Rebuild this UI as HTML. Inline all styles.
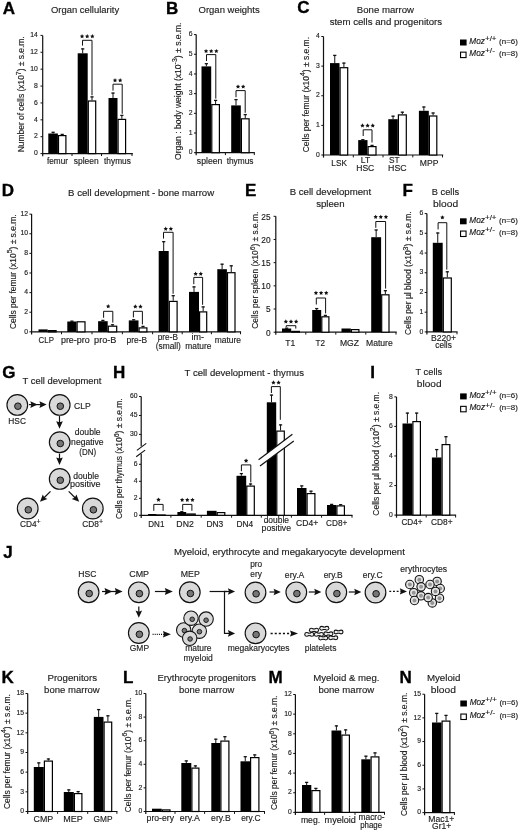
<!DOCTYPE html>
<html><head><meta charset="utf-8"><title>Figure</title>
<style>
html,body{margin:0;padding:0;background:#fff;}
svg{display:block;will-change:transform;filter:blur(0.25px);}
text{font-family:"Liberation Sans",sans-serif;fill:#1c1c1c;stroke:#1c1c1c;stroke-width:0.15px;}
</style></head>
<body>
<svg width="520" height="831" viewBox="0 0 520 831">
<rect x="0" y="0" width="520" height="831" fill="#fff"/>
<text x="2.73" y="13.50" font-size="17" font-weight="bold" style="fill:#000;stroke:#000;stroke-width:0.35px">A</text>
<text x="50.95" y="12.90" font-size="9.7" textLength="68.17" lengthAdjust="spacingAndGlyphs">Organ cellularity</text>
<line x1="42.70" y1="35.40" x2="42.70" y2="156.20" stroke="#111" stroke-width="1.2"/>
<line x1="40.50" y1="153.60" x2="42.70" y2="153.60" stroke="#111" stroke-width="1.0"/>
<text x="37.80" y="155.33" font-size="6.8" text-anchor="end">0</text>
<line x1="40.50" y1="136.71" x2="42.70" y2="136.71" stroke="#111" stroke-width="1.0"/>
<text x="37.80" y="138.44" font-size="6.8" text-anchor="end">2</text>
<line x1="40.50" y1="119.83" x2="42.70" y2="119.83" stroke="#111" stroke-width="1.0"/>
<text x="37.80" y="121.56" font-size="6.8" text-anchor="end">4</text>
<line x1="40.50" y1="102.94" x2="42.70" y2="102.94" stroke="#111" stroke-width="1.0"/>
<text x="37.80" y="104.67" font-size="6.8" text-anchor="end">6</text>
<line x1="40.50" y1="86.06" x2="42.70" y2="86.06" stroke="#111" stroke-width="1.0"/>
<text x="37.80" y="87.78" font-size="6.8" text-anchor="end">8</text>
<line x1="40.50" y1="69.17" x2="42.70" y2="69.17" stroke="#111" stroke-width="1.0"/>
<text x="37.80" y="70.90" font-size="6.8" text-anchor="end">10</text>
<line x1="40.50" y1="52.28" x2="42.70" y2="52.28" stroke="#111" stroke-width="1.0"/>
<text x="37.80" y="54.01" font-size="6.8" text-anchor="end">12</text>
<line x1="40.50" y1="35.40" x2="42.70" y2="35.40" stroke="#111" stroke-width="1.0"/>
<text x="37.80" y="37.13" font-size="6.8" text-anchor="end">14</text>
<line x1="42.10" y1="153.60" x2="132.80" y2="153.60" stroke="#111" stroke-width="1.2"/>
<line x1="72.00" y1="153.60" x2="72.00" y2="156.00" stroke="#111" stroke-width="1.0"/>
<line x1="101.50" y1="153.60" x2="101.50" y2="156.00" stroke="#111" stroke-width="1.0"/>
<line x1="132.00" y1="153.60" x2="132.00" y2="156.00" stroke="#111" stroke-width="1.0"/>
<rect x="48.30" y="133.50" width="9.60" height="20.10" fill="#000"/>
<line x1="53.10" y1="131.90" x2="53.10" y2="133.50" stroke="#111" stroke-width="1.0"/>
<line x1="51.50" y1="132.30" x2="54.70" y2="132.30" stroke="#111" stroke-width="1.3"/>
<rect x="58.50" y="135.60" width="7.40" height="18.00" fill="#fff" stroke="#000" stroke-width="1.2"/>
<line x1="62.20" y1="134.00" x2="62.20" y2="135.00" stroke="#111" stroke-width="1.0"/>
<line x1="60.60" y1="134.40" x2="63.80" y2="134.40" stroke="#111" stroke-width="1.3"/>
<rect x="77.70" y="53.30" width="10.00" height="100.30" fill="#000"/>
<line x1="82.70" y1="48.50" x2="82.70" y2="53.30" stroke="#111" stroke-width="1.0"/>
<line x1="81.10" y1="48.90" x2="84.30" y2="48.90" stroke="#111" stroke-width="1.3"/>
<rect x="88.30" y="101.00" width="7.40" height="52.60" fill="#fff" stroke="#000" stroke-width="1.2"/>
<line x1="92.00" y1="96.50" x2="92.00" y2="100.40" stroke="#111" stroke-width="1.0"/>
<line x1="90.40" y1="96.90" x2="93.60" y2="96.90" stroke="#111" stroke-width="1.3"/>
<rect x="108.50" y="98.00" width="9.00" height="55.60" fill="#000"/>
<line x1="113.00" y1="92.70" x2="113.00" y2="98.00" stroke="#111" stroke-width="1.0"/>
<line x1="111.40" y1="93.10" x2="114.60" y2="93.10" stroke="#111" stroke-width="1.3"/>
<rect x="118.10" y="119.40" width="7.50" height="34.20" fill="#fff" stroke="#000" stroke-width="1.2"/>
<line x1="121.85" y1="115.00" x2="121.85" y2="118.80" stroke="#111" stroke-width="1.0"/>
<line x1="120.25" y1="115.40" x2="123.45" y2="115.40" stroke="#111" stroke-width="1.3"/>
<polyline points="82.50,45.60 82.50,40.30 92.00,40.30 92.00,95.30" stroke="#111" stroke-width="1.0" fill="none"/>
<polygon points="82.05,34.10 82.73,35.47 84.24,35.69 83.14,36.76 83.40,38.26 82.05,37.55 80.70,38.26 80.96,36.76 79.86,35.69 81.37,35.47" fill="#111"/>
<polygon points="87.20,34.10 87.88,35.47 89.39,35.69 88.29,36.76 88.55,38.26 87.20,37.55 85.85,38.26 86.11,36.76 85.01,35.69 86.52,35.47" fill="#111"/>
<polygon points="92.35,34.10 93.03,35.47 94.54,35.69 93.44,36.76 93.70,38.26 92.35,37.55 91.00,38.26 91.26,36.76 90.16,35.69 91.67,35.47" fill="#111"/>
<polyline points="113.00,90.60 113.00,84.20 122.20,84.20 122.20,113.80" stroke="#111" stroke-width="1.0" fill="none"/>
<polygon points="115.02,78.10 115.70,79.47 117.21,79.69 116.12,80.76 116.38,82.26 115.02,81.55 113.67,82.26 113.93,80.76 112.84,79.69 114.35,79.47" fill="#111"/>
<polygon points="120.17,78.10 120.85,79.47 122.36,79.69 121.27,80.76 121.53,82.26 120.17,81.55 118.82,82.26 119.08,80.76 117.99,79.69 119.50,79.47" fill="#111"/>
<text x="46.98" y="164.30" font-size="8.5" textLength="20.95" lengthAdjust="spacingAndGlyphs">femur</text>
<text x="73.76" y="164.30" font-size="8.5" textLength="24.88" lengthAdjust="spacingAndGlyphs">spleen</text>
<text x="104.07" y="164.30" font-size="8.5" textLength="26.83" lengthAdjust="spacingAndGlyphs">thymus</text>
<text transform="translate(24.00,152.20) rotate(-90)" x="0" y="0" font-size="8.3" textLength="115.84" lengthAdjust="spacingAndGlyphs">Number of cells (x10<tspan dy="-3.49" font-size="6.81">7</tspan><tspan dy="3.49">) ± s.e.m.</tspan></text>
<text x="166.11" y="13.60" font-size="17" font-weight="bold" style="fill:#000;stroke:#000;stroke-width:0.35px">B</text>
<text x="198.55" y="12.90" font-size="9.7" textLength="61.19" lengthAdjust="spacingAndGlyphs">Organ weights</text>
<line x1="196.20" y1="34.60" x2="196.20" y2="155.30" stroke="#111" stroke-width="1.2"/>
<line x1="194.00" y1="152.70" x2="196.20" y2="152.70" stroke="#111" stroke-width="1.0"/>
<text x="192.60" y="154.43" font-size="6.8" text-anchor="end">0</text>
<line x1="194.00" y1="133.02" x2="196.20" y2="133.02" stroke="#111" stroke-width="1.0"/>
<text x="192.60" y="134.74" font-size="6.8" text-anchor="end">1</text>
<line x1="194.00" y1="113.33" x2="196.20" y2="113.33" stroke="#111" stroke-width="1.0"/>
<text x="192.60" y="115.06" font-size="6.8" text-anchor="end">2</text>
<line x1="194.00" y1="93.65" x2="196.20" y2="93.65" stroke="#111" stroke-width="1.0"/>
<text x="192.60" y="95.38" font-size="6.8" text-anchor="end">3</text>
<line x1="194.00" y1="73.97" x2="196.20" y2="73.97" stroke="#111" stroke-width="1.0"/>
<text x="192.60" y="75.70" font-size="6.8" text-anchor="end">4</text>
<line x1="194.00" y1="54.28" x2="196.20" y2="54.28" stroke="#111" stroke-width="1.0"/>
<text x="192.60" y="56.01" font-size="6.8" text-anchor="end">5</text>
<line x1="194.00" y1="34.60" x2="196.20" y2="34.60" stroke="#111" stroke-width="1.0"/>
<text x="192.60" y="36.33" font-size="6.8" text-anchor="end">6</text>
<line x1="195.60" y1="152.70" x2="254.80" y2="152.70" stroke="#111" stroke-width="1.2"/>
<line x1="225.40" y1="152.70" x2="225.40" y2="155.10" stroke="#111" stroke-width="1.0"/>
<line x1="254.30" y1="152.70" x2="254.30" y2="155.10" stroke="#111" stroke-width="1.0"/>
<rect x="201.50" y="66.40" width="9.70" height="86.30" fill="#000"/>
<line x1="206.35" y1="63.30" x2="206.35" y2="66.40" stroke="#111" stroke-width="1.0"/>
<line x1="204.75" y1="63.70" x2="207.95" y2="63.70" stroke="#111" stroke-width="1.3"/>
<rect x="211.80" y="104.60" width="7.60" height="48.10" fill="#fff" stroke="#000" stroke-width="1.2"/>
<line x1="215.60" y1="100.00" x2="215.60" y2="104.00" stroke="#111" stroke-width="1.0"/>
<line x1="214.00" y1="100.40" x2="217.20" y2="100.40" stroke="#111" stroke-width="1.3"/>
<rect x="231.20" y="105.40" width="9.60" height="47.30" fill="#000"/>
<line x1="236.00" y1="99.20" x2="236.00" y2="105.40" stroke="#111" stroke-width="1.0"/>
<line x1="234.40" y1="99.60" x2="237.60" y2="99.60" stroke="#111" stroke-width="1.3"/>
<rect x="241.40" y="118.80" width="7.70" height="33.90" fill="#fff" stroke="#000" stroke-width="1.2"/>
<line x1="245.25" y1="114.20" x2="245.25" y2="118.20" stroke="#111" stroke-width="1.0"/>
<line x1="243.65" y1="114.60" x2="246.85" y2="114.60" stroke="#111" stroke-width="1.3"/>
<polyline points="206.50,61.00 206.50,54.60 215.80,54.60 215.80,98.60" stroke="#111" stroke-width="1.0" fill="none"/>
<polygon points="206.05,48.90 206.73,50.27 208.24,50.49 207.14,51.56 207.40,53.06 206.05,52.35 204.70,53.06 204.96,51.56 203.86,50.49 205.37,50.27" fill="#111"/>
<polygon points="211.20,48.90 211.88,50.27 213.39,50.49 212.29,51.56 212.55,53.06 211.20,52.35 209.85,53.06 210.11,51.56 209.01,50.49 210.52,50.27" fill="#111"/>
<polygon points="216.35,48.90 217.03,50.27 218.54,50.49 217.44,51.56 217.70,53.06 216.35,52.35 215.00,53.06 215.26,51.56 214.16,50.49 215.67,50.27" fill="#111"/>
<polyline points="236.00,97.20 236.00,90.60 245.20,90.60 245.20,112.80" stroke="#111" stroke-width="1.0" fill="none"/>
<polygon points="238.03,84.40 238.70,85.77 240.21,85.99 239.12,87.06 239.38,88.56 238.03,87.85 236.67,88.56 236.93,87.06 235.84,85.99 237.35,85.77" fill="#111"/>
<polygon points="243.18,84.40 243.85,85.77 245.36,85.99 244.27,87.06 244.53,88.56 243.18,87.85 241.82,88.56 242.08,87.06 240.99,85.99 242.50,85.77" fill="#111"/>
<text x="196.86" y="163.80" font-size="8.5" textLength="25.50" lengthAdjust="spacingAndGlyphs">spleen</text>
<text x="226.67" y="163.80" font-size="8.5" textLength="26.83" lengthAdjust="spacingAndGlyphs">thymus</text>
<text transform="translate(180.90,159.90) rotate(-90)" x="0" y="0" font-size="8.3" textLength="137.34" lengthAdjust="spacingAndGlyphs">Organ : body weight (x10<tspan dy="-3.49" font-size="6.81">-3</tspan><tspan dy="3.49">) ± s.e.m.</tspan></text>
<text x="297.25" y="13.40" font-size="17" font-weight="bold" style="fill:#000;stroke:#000;stroke-width:0.35px">C</text>
<text x="356.81" y="13.20" font-size="9.7" textLength="57.17" lengthAdjust="spacingAndGlyphs">Bone marrow</text>
<text x="329.63" y="24.90" font-size="9.7" textLength="112.52" lengthAdjust="spacingAndGlyphs">stem cells and progenitors</text>
<line x1="323.50" y1="36.50" x2="323.50" y2="157.60" stroke="#111" stroke-width="1.2"/>
<line x1="321.30" y1="155.00" x2="323.50" y2="155.00" stroke="#111" stroke-width="1.0"/>
<text x="319.90" y="156.73" font-size="6.8" text-anchor="end">0</text>
<line x1="321.30" y1="125.38" x2="323.50" y2="125.38" stroke="#111" stroke-width="1.0"/>
<text x="319.90" y="127.10" font-size="6.8" text-anchor="end">1</text>
<line x1="321.30" y1="95.75" x2="323.50" y2="95.75" stroke="#111" stroke-width="1.0"/>
<text x="319.90" y="97.48" font-size="6.8" text-anchor="end">2</text>
<line x1="321.30" y1="66.12" x2="323.50" y2="66.12" stroke="#111" stroke-width="1.0"/>
<text x="319.90" y="67.85" font-size="6.8" text-anchor="end">3</text>
<line x1="321.30" y1="36.50" x2="323.50" y2="36.50" stroke="#111" stroke-width="1.0"/>
<text x="319.90" y="38.23" font-size="6.8" text-anchor="end">4</text>
<line x1="322.90" y1="155.00" x2="443.20" y2="155.00" stroke="#111" stroke-width="1.2"/>
<line x1="353.30" y1="155.00" x2="353.30" y2="157.40" stroke="#111" stroke-width="1.0"/>
<line x1="383.00" y1="155.00" x2="383.00" y2="157.40" stroke="#111" stroke-width="1.0"/>
<line x1="412.80" y1="155.00" x2="412.80" y2="157.40" stroke="#111" stroke-width="1.0"/>
<line x1="442.50" y1="155.00" x2="442.50" y2="157.40" stroke="#111" stroke-width="1.0"/>
<rect x="330.00" y="63.10" width="9.50" height="91.90" fill="#000"/>
<line x1="334.75" y1="55.00" x2="334.75" y2="63.10" stroke="#111" stroke-width="1.0"/>
<line x1="333.15" y1="55.40" x2="336.35" y2="55.40" stroke="#111" stroke-width="1.3"/>
<rect x="340.10" y="67.70" width="7.60" height="87.30" fill="#fff" stroke="#000" stroke-width="1.2"/>
<line x1="343.90" y1="62.70" x2="343.90" y2="67.10" stroke="#111" stroke-width="1.0"/>
<line x1="342.30" y1="63.10" x2="345.50" y2="63.10" stroke="#111" stroke-width="1.3"/>
<rect x="358.20" y="140.10" width="9.30" height="14.90" fill="#000"/>
<line x1="362.85" y1="139.30" x2="362.85" y2="140.10" stroke="#111" stroke-width="1.0"/>
<line x1="361.25" y1="139.70" x2="364.45" y2="139.70" stroke="#111" stroke-width="1.3"/>
<rect x="368.10" y="146.60" width="7.90" height="8.40" fill="#fff" stroke="#000" stroke-width="1.2"/>
<line x1="372.05" y1="145.00" x2="372.05" y2="146.00" stroke="#111" stroke-width="1.0"/>
<line x1="370.45" y1="145.40" x2="373.65" y2="145.40" stroke="#111" stroke-width="1.3"/>
<rect x="388.30" y="119.20" width="9.50" height="35.80" fill="#000"/>
<line x1="393.05" y1="115.80" x2="393.05" y2="119.20" stroke="#111" stroke-width="1.0"/>
<line x1="391.45" y1="116.20" x2="394.65" y2="116.20" stroke="#111" stroke-width="1.3"/>
<rect x="398.40" y="114.90" width="7.90" height="40.10" fill="#fff" stroke="#000" stroke-width="1.2"/>
<line x1="402.35" y1="111.80" x2="402.35" y2="114.30" stroke="#111" stroke-width="1.0"/>
<line x1="400.75" y1="112.20" x2="403.95" y2="112.20" stroke="#111" stroke-width="1.3"/>
<rect x="418.90" y="110.80" width="9.90" height="44.20" fill="#000"/>
<line x1="423.85" y1="106.60" x2="423.85" y2="110.80" stroke="#111" stroke-width="1.0"/>
<line x1="422.25" y1="107.00" x2="425.45" y2="107.00" stroke="#111" stroke-width="1.3"/>
<rect x="429.40" y="116.00" width="7.40" height="39.00" fill="#fff" stroke="#000" stroke-width="1.2"/>
<line x1="433.10" y1="112.60" x2="433.10" y2="115.40" stroke="#111" stroke-width="1.0"/>
<line x1="431.50" y1="113.00" x2="434.70" y2="113.00" stroke="#111" stroke-width="1.3"/>
<polyline points="363.20,136.00 363.20,129.80 372.00,129.80 372.00,142.50" stroke="#111" stroke-width="1.0" fill="none"/>
<polygon points="362.45,123.30 363.13,124.67 364.64,124.89 363.54,125.96 363.80,127.46 362.45,126.75 361.10,127.46 361.36,125.96 360.26,124.89 361.77,124.67" fill="#111"/>
<polygon points="367.60,123.30 368.28,124.67 369.79,124.89 368.69,125.96 368.95,127.46 367.60,126.75 366.25,127.46 366.51,125.96 365.41,124.89 366.92,124.67" fill="#111"/>
<polygon points="372.75,123.30 373.43,124.67 374.94,124.89 373.84,125.96 374.10,127.46 372.75,126.75 371.40,127.46 371.66,125.96 370.56,124.89 372.07,124.67" fill="#111"/>
<text x="331.32" y="166.20" font-size="8.5" textLength="15.57" lengthAdjust="spacingAndGlyphs">LSK</text>
<text x="360.84" y="163.10" font-size="8.5" textLength="9.34" lengthAdjust="spacingAndGlyphs">LT</text>
<text x="356.20" y="170.60" font-size="8.5" textLength="18.13" lengthAdjust="spacingAndGlyphs">HSC</text>
<text x="389.02" y="163.10" font-size="8.5" textLength="10.57" lengthAdjust="spacingAndGlyphs">ST</text>
<text x="388.08" y="170.60" font-size="8.5" textLength="18.56" lengthAdjust="spacingAndGlyphs">HSC</text>
<text x="419.80" y="166.20" font-size="8.5" textLength="18.55" lengthAdjust="spacingAndGlyphs">MPP</text>
<text transform="translate(308.60,152.30) rotate(-90)" x="0" y="0" font-size="8.3" textLength="115.34" lengthAdjust="spacingAndGlyphs">Cells per femur (x10<tspan dy="-3.49" font-size="6.81">4</tspan><tspan dy="3.49">) ± s.e.m.</tspan></text>
<rect x="460.00" y="39.50" width="6.60" height="6.00" fill="#000"/>
<rect x="460.55" y="52.15" width="5.50" height="5.45" fill="#fff" stroke="#000" stroke-width="1.1"/>
<text x="469.35" y="44.00" font-size="8.3" font-style="italic" textLength="15.57" lengthAdjust="spacingAndGlyphs">Moz</text>
<text x="485.01" y="41.30" font-size="7.2" textLength="11.48" lengthAdjust="spacingAndGlyphs">+/+</text>
<text x="499.11" y="44.00" font-size="7.7" textLength="18.68" lengthAdjust="spacingAndGlyphs">(n=6)</text>
<text x="469.35" y="56.10" font-size="8.3" font-style="italic" textLength="15.57" lengthAdjust="spacingAndGlyphs">Moz</text>
<text x="484.99" y="53.40" font-size="7.2" textLength="9.98" lengthAdjust="spacingAndGlyphs">+/-</text>
<text x="499.11" y="56.10" font-size="7.7" textLength="18.68" lengthAdjust="spacingAndGlyphs">(n=8)</text>
<text x="1.71" y="196.20" font-size="17" font-weight="bold" style="fill:#000;stroke:#000;stroke-width:0.35px">D</text>
<text x="68.11" y="195.80" font-size="9.7" textLength="146.07" lengthAdjust="spacingAndGlyphs">B cell development - bone marrow</text>
<line x1="31.60" y1="214.10" x2="31.60" y2="334.45" stroke="#111" stroke-width="1.2"/>
<line x1="29.40" y1="331.85" x2="31.60" y2="331.85" stroke="#111" stroke-width="1.0"/>
<text x="28.00" y="333.58" font-size="6.8" text-anchor="end">0</text>
<line x1="29.40" y1="312.23" x2="31.60" y2="312.23" stroke="#111" stroke-width="1.0"/>
<text x="28.00" y="313.96" font-size="6.8" text-anchor="end">2</text>
<line x1="29.40" y1="292.61" x2="31.60" y2="292.61" stroke="#111" stroke-width="1.0"/>
<text x="28.00" y="294.34" font-size="6.8" text-anchor="end">4</text>
<line x1="29.40" y1="272.99" x2="31.60" y2="272.99" stroke="#111" stroke-width="1.0"/>
<text x="28.00" y="274.72" font-size="6.8" text-anchor="end">6</text>
<line x1="29.40" y1="253.37" x2="31.60" y2="253.37" stroke="#111" stroke-width="1.0"/>
<text x="28.00" y="255.10" font-size="6.8" text-anchor="end">8</text>
<line x1="29.40" y1="233.75" x2="31.60" y2="233.75" stroke="#111" stroke-width="1.0"/>
<text x="28.00" y="235.48" font-size="6.8" text-anchor="end">10</text>
<line x1="29.40" y1="214.13" x2="31.60" y2="214.13" stroke="#111" stroke-width="1.0"/>
<text x="28.00" y="215.86" font-size="6.8" text-anchor="end">12</text>
<line x1="31.00" y1="331.85" x2="241.10" y2="331.85" stroke="#111" stroke-width="1.2"/>
<line x1="61.50" y1="331.85" x2="61.50" y2="334.25" stroke="#111" stroke-width="1.0"/>
<line x1="92.00" y1="331.85" x2="92.00" y2="334.25" stroke="#111" stroke-width="1.0"/>
<line x1="122.40" y1="331.85" x2="122.40" y2="334.25" stroke="#111" stroke-width="1.0"/>
<line x1="152.60" y1="331.85" x2="152.60" y2="334.25" stroke="#111" stroke-width="1.0"/>
<line x1="182.20" y1="331.85" x2="182.20" y2="334.25" stroke="#111" stroke-width="1.0"/>
<line x1="211.40" y1="331.85" x2="211.40" y2="334.25" stroke="#111" stroke-width="1.0"/>
<line x1="240.50" y1="331.85" x2="240.50" y2="334.25" stroke="#111" stroke-width="1.0"/>
<rect x="38.50" y="329.40" width="9.20" height="2.45" fill="#000"/>
<rect x="48.30" y="330.60" width="7.80" height="1.25" fill="#fff" stroke="#000" stroke-width="1.2"/>
<rect x="67.30" y="321.50" width="9.20" height="10.35" fill="#000"/>
<line x1="71.90" y1="320.80" x2="71.90" y2="321.50" stroke="#111" stroke-width="1.0"/>
<line x1="70.30" y1="321.20" x2="73.50" y2="321.20" stroke="#111" stroke-width="1.3"/>
<rect x="77.10" y="321.80" width="7.90" height="10.05" fill="#fff" stroke="#000" stroke-width="1.2"/>
<rect x="98.10" y="321.20" width="9.60" height="10.65" fill="#000"/>
<line x1="102.90" y1="320.00" x2="102.90" y2="321.20" stroke="#111" stroke-width="1.0"/>
<line x1="101.30" y1="320.40" x2="104.50" y2="320.40" stroke="#111" stroke-width="1.3"/>
<rect x="108.30" y="326.20" width="8.40" height="5.65" fill="#fff" stroke="#000" stroke-width="1.2"/>
<line x1="112.50" y1="324.40" x2="112.50" y2="325.60" stroke="#111" stroke-width="1.0"/>
<line x1="110.90" y1="324.80" x2="114.10" y2="324.80" stroke="#111" stroke-width="1.3"/>
<rect x="128.80" y="320.40" width="9.70" height="11.45" fill="#000"/>
<line x1="133.65" y1="319.40" x2="133.65" y2="320.40" stroke="#111" stroke-width="1.0"/>
<line x1="132.05" y1="319.80" x2="135.25" y2="319.80" stroke="#111" stroke-width="1.3"/>
<rect x="139.10" y="327.90" width="7.80" height="3.95" fill="#fff" stroke="#000" stroke-width="1.2"/>
<line x1="143.00" y1="326.00" x2="143.00" y2="327.30" stroke="#111" stroke-width="1.0"/>
<line x1="141.40" y1="326.40" x2="144.60" y2="326.40" stroke="#111" stroke-width="1.3"/>
<rect x="158.70" y="251.00" width="10.00" height="80.85" fill="#000"/>
<line x1="163.70" y1="241.30" x2="163.70" y2="251.00" stroke="#111" stroke-width="1.0"/>
<line x1="162.10" y1="241.70" x2="165.30" y2="241.70" stroke="#111" stroke-width="1.3"/>
<rect x="169.30" y="301.40" width="7.80" height="30.45" fill="#fff" stroke="#000" stroke-width="1.2"/>
<line x1="173.20" y1="295.30" x2="173.20" y2="300.80" stroke="#111" stroke-width="1.0"/>
<line x1="171.60" y1="295.70" x2="174.80" y2="295.70" stroke="#111" stroke-width="1.3"/>
<rect x="189.00" y="291.90" width="10.00" height="39.95" fill="#000"/>
<line x1="194.00" y1="286.50" x2="194.00" y2="291.90" stroke="#111" stroke-width="1.0"/>
<line x1="192.40" y1="286.90" x2="195.60" y2="286.90" stroke="#111" stroke-width="1.3"/>
<rect x="199.60" y="311.90" width="7.10" height="19.95" fill="#fff" stroke="#000" stroke-width="1.2"/>
<line x1="203.15" y1="306.50" x2="203.15" y2="311.30" stroke="#111" stroke-width="1.0"/>
<line x1="201.55" y1="306.90" x2="204.75" y2="306.90" stroke="#111" stroke-width="1.3"/>
<rect x="217.30" y="269.20" width="9.60" height="62.65" fill="#000"/>
<line x1="222.10" y1="263.80" x2="222.10" y2="269.20" stroke="#111" stroke-width="1.0"/>
<line x1="220.50" y1="264.20" x2="223.70" y2="264.20" stroke="#111" stroke-width="1.3"/>
<rect x="227.50" y="272.70" width="7.50" height="59.15" fill="#fff" stroke="#000" stroke-width="1.2"/>
<line x1="231.25" y1="265.40" x2="231.25" y2="272.10" stroke="#111" stroke-width="1.0"/>
<line x1="229.65" y1="265.80" x2="232.85" y2="265.80" stroke="#111" stroke-width="1.3"/>
<polyline points="103.60,317.80 103.60,311.30 112.80,311.30 112.80,322.60" stroke="#111" stroke-width="1.0" fill="none"/>
<polygon points="108.20,304.10 108.88,305.47 110.39,305.69 109.29,306.76 109.55,308.26 108.20,307.55 106.85,308.26 107.11,306.76 106.01,305.69 107.52,305.47" fill="#111"/>
<polyline points="133.40,317.40 133.40,311.30 142.40,311.30 142.40,324.40" stroke="#111" stroke-width="1.0" fill="none"/>
<polygon points="135.33,304.30 136.00,305.67 137.51,305.89 136.42,306.96 136.68,308.46 135.33,307.75 133.97,308.46 134.23,306.96 133.14,305.89 134.65,305.67" fill="#111"/>
<polygon points="140.48,304.30 141.15,305.67 142.66,305.89 141.57,306.96 141.83,308.46 140.48,307.75 139.12,308.46 139.38,306.96 138.29,305.89 139.80,305.67" fill="#111"/>
<polyline points="163.50,238.60 163.50,232.30 173.10,232.30 173.10,293.80" stroke="#111" stroke-width="1.0" fill="none"/>
<polygon points="165.73,226.60 166.40,227.97 167.91,228.19 166.82,229.26 167.08,230.76 165.73,230.05 164.37,230.76 164.63,229.26 163.54,228.19 165.05,227.97" fill="#111"/>
<polygon points="170.88,226.60 171.55,227.97 173.06,228.19 171.97,229.26 172.23,230.76 170.88,230.05 169.52,230.76 169.78,229.26 168.69,228.19 170.20,227.97" fill="#111"/>
<polyline points="193.80,284.20 193.80,277.40 202.60,277.40 202.60,304.80" stroke="#111" stroke-width="1.0" fill="none"/>
<polygon points="195.62,271.60 196.30,272.97 197.81,273.19 196.72,274.26 196.98,275.76 195.62,275.05 194.27,275.76 194.53,274.26 193.44,273.19 194.95,272.97" fill="#111"/>
<polygon points="200.78,271.60 201.45,272.97 202.96,273.19 201.87,274.26 202.13,275.76 200.78,275.05 199.42,275.76 199.68,274.26 198.59,273.19 200.10,272.97" fill="#111"/>
<text x="38.60" y="343.00" font-size="8.5" textLength="15.31" lengthAdjust="spacingAndGlyphs">CLP</text>
<text x="60.93" y="343.00" font-size="8.5" textLength="28.75" lengthAdjust="spacingAndGlyphs">pre-pro</text>
<text x="94.11" y="343.00" font-size="8.5" textLength="22.37" lengthAdjust="spacingAndGlyphs">pro-B</text>
<text x="126.56" y="343.00" font-size="8.5" textLength="20.59" lengthAdjust="spacingAndGlyphs">pre-B</text>
<text x="157.77" y="340.40" font-size="8.5" textLength="20.17" lengthAdjust="spacingAndGlyphs">pre-B</text>
<text x="155.68" y="349.20" font-size="8.5" textLength="25.14" lengthAdjust="spacingAndGlyphs">(small)</text>
<text x="191.50" y="340.40" font-size="8.5" textLength="12.50" lengthAdjust="spacingAndGlyphs">im-</text>
<text x="185.24" y="349.20" font-size="8.5" textLength="26.13" lengthAdjust="spacingAndGlyphs">mature</text>
<text x="214.64" y="343.20" font-size="8.5" textLength="26.34" lengthAdjust="spacingAndGlyphs">mature</text>
<text transform="translate(15.70,329.10) rotate(-90)" x="0" y="0" font-size="8.3" textLength="114.65" lengthAdjust="spacingAndGlyphs">Cells per femur (x10<tspan dy="-3.49" font-size="6.81">5</tspan><tspan dy="3.49">) ± s.e.m.</tspan></text>
<text x="244.91" y="196.30" font-size="17" font-weight="bold" style="fill:#000;stroke:#000;stroke-width:0.35px">E</text>
<text x="289.71" y="195.00" font-size="9.7" textLength="81.36" lengthAdjust="spacingAndGlyphs">B cell development</text>
<text x="316.13" y="206.50" font-size="9.7" textLength="28.50" lengthAdjust="spacingAndGlyphs">spleen</text>
<line x1="275.80" y1="216.30" x2="275.80" y2="334.80" stroke="#111" stroke-width="1.2"/>
<line x1="273.60" y1="332.20" x2="275.80" y2="332.20" stroke="#111" stroke-width="1.0"/>
<text x="270.50" y="335.56" font-size="8.3" text-anchor="end">0</text>
<line x1="273.60" y1="309.02" x2="275.80" y2="309.02" stroke="#111" stroke-width="1.0"/>
<text x="270.50" y="312.38" font-size="8.3" text-anchor="end">5</text>
<line x1="273.60" y1="285.84" x2="275.80" y2="285.84" stroke="#111" stroke-width="1.0"/>
<text x="270.50" y="289.20" font-size="8.3" text-anchor="end">10</text>
<line x1="273.60" y1="262.66" x2="275.80" y2="262.66" stroke="#111" stroke-width="1.0"/>
<text x="270.50" y="266.02" font-size="8.3" text-anchor="end">15</text>
<line x1="273.60" y1="239.48" x2="275.80" y2="239.48" stroke="#111" stroke-width="1.0"/>
<text x="270.50" y="242.84" font-size="8.3" text-anchor="end">20</text>
<line x1="273.60" y1="216.30" x2="275.80" y2="216.30" stroke="#111" stroke-width="1.0"/>
<text x="270.50" y="219.66" font-size="8.3" text-anchor="end">25</text>
<line x1="275.20" y1="332.20" x2="396.70" y2="332.20" stroke="#111" stroke-width="1.2"/>
<line x1="305.80" y1="332.20" x2="305.80" y2="334.60" stroke="#111" stroke-width="1.0"/>
<line x1="335.80" y1="332.20" x2="335.80" y2="334.60" stroke="#111" stroke-width="1.0"/>
<line x1="365.80" y1="332.20" x2="365.80" y2="334.60" stroke="#111" stroke-width="1.0"/>
<line x1="396.00" y1="332.20" x2="396.00" y2="334.60" stroke="#111" stroke-width="1.0"/>
<rect x="282.00" y="328.50" width="9.20" height="3.70" fill="#000"/>
<line x1="286.60" y1="327.80" x2="286.60" y2="328.50" stroke="#111" stroke-width="1.0"/>
<line x1="285.00" y1="328.20" x2="288.20" y2="328.20" stroke="#111" stroke-width="1.3"/>
<rect x="291.80" y="331.40" width="7.60" height="0.80" fill="#fff" stroke="#000" stroke-width="1.2"/>
<rect x="312.20" y="310.00" width="9.00" height="22.20" fill="#000"/>
<line x1="316.70" y1="308.20" x2="316.70" y2="310.00" stroke="#111" stroke-width="1.0"/>
<line x1="315.10" y1="308.60" x2="318.30" y2="308.60" stroke="#111" stroke-width="1.3"/>
<rect x="321.80" y="316.80" width="7.10" height="15.40" fill="#fff" stroke="#000" stroke-width="1.2"/>
<line x1="325.35" y1="315.00" x2="325.35" y2="316.20" stroke="#111" stroke-width="1.0"/>
<line x1="323.75" y1="315.40" x2="326.95" y2="315.40" stroke="#111" stroke-width="1.3"/>
<rect x="341.50" y="328.50" width="9.30" height="3.70" fill="#000"/>
<rect x="351.40" y="329.60" width="7.50" height="2.60" fill="#fff" stroke="#000" stroke-width="1.2"/>
<rect x="371.20" y="237.20" width="9.90" height="95.00" fill="#000"/>
<line x1="376.15" y1="229.60" x2="376.15" y2="237.20" stroke="#111" stroke-width="1.0"/>
<line x1="374.55" y1="230.00" x2="377.75" y2="230.00" stroke="#111" stroke-width="1.3"/>
<rect x="381.70" y="294.80" width="7.30" height="37.40" fill="#fff" stroke="#000" stroke-width="1.2"/>
<line x1="385.35" y1="290.30" x2="385.35" y2="294.20" stroke="#111" stroke-width="1.0"/>
<line x1="383.75" y1="290.70" x2="386.95" y2="290.70" stroke="#111" stroke-width="1.3"/>
<polyline points="286.20,327.00 286.20,325.70 295.80,325.70 295.80,328.60" stroke="#111" stroke-width="1.0" fill="none"/>
<polygon points="285.85,319.30 286.53,320.67 288.04,320.89 286.94,321.96 287.20,323.46 285.85,322.75 284.50,323.46 284.76,321.96 283.66,320.89 285.17,320.67" fill="#111"/>
<polygon points="291.00,319.30 291.68,320.67 293.19,320.89 292.09,321.96 292.35,323.46 291.00,322.75 289.65,323.46 289.91,321.96 288.81,320.89 290.32,320.67" fill="#111"/>
<polygon points="296.15,319.30 296.83,320.67 298.34,320.89 297.24,321.96 297.50,323.46 296.15,322.75 294.80,323.46 295.06,321.96 293.96,320.89 295.47,320.67" fill="#111"/>
<polyline points="316.30,304.50 316.30,298.00 325.60,298.00 325.60,313.40" stroke="#111" stroke-width="1.0" fill="none"/>
<polygon points="315.95,290.70 316.63,292.07 318.14,292.29 317.04,293.36 317.30,294.86 315.95,294.15 314.60,294.86 314.86,293.36 313.76,292.29 315.27,292.07" fill="#111"/>
<polygon points="321.10,290.70 321.78,292.07 323.29,292.29 322.19,293.36 322.45,294.86 321.10,294.15 319.75,294.86 320.01,293.36 318.91,292.29 320.42,292.07" fill="#111"/>
<polygon points="326.25,290.70 326.93,292.07 328.44,292.29 327.34,293.36 327.60,294.86 326.25,294.15 324.90,294.86 325.16,293.36 324.06,292.29 325.57,292.07" fill="#111"/>
<polyline points="375.80,227.80 375.80,221.50 385.60,221.50 385.60,288.60" stroke="#111" stroke-width="1.0" fill="none"/>
<polygon points="375.65,214.70 376.33,216.07 377.84,216.29 376.74,217.36 377.00,218.86 375.65,218.15 374.30,218.86 374.56,217.36 373.46,216.29 374.97,216.07" fill="#111"/>
<polygon points="380.80,214.70 381.48,216.07 382.99,216.29 381.89,217.36 382.15,218.86 380.80,218.15 379.45,218.86 379.71,217.36 378.61,216.29 380.12,216.07" fill="#111"/>
<polygon points="385.95,214.70 386.63,216.07 388.14,216.29 387.04,217.36 387.30,218.86 385.95,218.15 384.60,218.86 384.86,217.36 383.76,216.29 385.27,216.07" fill="#111"/>
<text x="290.30" y="346.20" font-size="8.5" text-anchor="middle">T1</text>
<text x="315.52" y="346.20" font-size="8.5" textLength="9.49" lengthAdjust="spacingAndGlyphs">T2</text>
<text x="339.90" y="346.20" font-size="8.5" textLength="19.07" lengthAdjust="spacingAndGlyphs">MGZ</text>
<text x="365.99" y="346.20" font-size="8.5" textLength="26.79" lengthAdjust="spacingAndGlyphs">Mature</text>
<text transform="translate(258.20,328.80) rotate(-90)" x="0" y="0" font-size="8.3" textLength="117.05" lengthAdjust="spacingAndGlyphs">Cells per spleen (x10<tspan dy="-3.49" font-size="6.81">6</tspan><tspan dy="3.49">) ± s.e.m.</tspan></text>
<text x="402.61" y="196.30" font-size="17" font-weight="bold" style="fill:#000;stroke:#000;stroke-width:0.35px">F</text>
<text x="431.84" y="195.00" font-size="9.7" textLength="27.30" lengthAdjust="spacingAndGlyphs">B cells</text>
<text x="433.04" y="206.50" font-size="9.7" textLength="25.12" lengthAdjust="spacingAndGlyphs">blood</text>
<line x1="426.90" y1="213.60" x2="426.90" y2="334.50" stroke="#111" stroke-width="1.2"/>
<line x1="424.70" y1="331.90" x2="426.90" y2="331.90" stroke="#111" stroke-width="1.0"/>
<text x="423.30" y="333.63" font-size="6.8" text-anchor="end">0</text>
<line x1="424.70" y1="312.18" x2="426.90" y2="312.18" stroke="#111" stroke-width="1.0"/>
<text x="423.30" y="313.91" font-size="6.8" text-anchor="end">1</text>
<line x1="424.70" y1="292.46" x2="426.90" y2="292.46" stroke="#111" stroke-width="1.0"/>
<text x="423.30" y="294.19" font-size="6.8" text-anchor="end">2</text>
<line x1="424.70" y1="272.74" x2="426.90" y2="272.74" stroke="#111" stroke-width="1.0"/>
<text x="423.30" y="274.47" font-size="6.8" text-anchor="end">3</text>
<line x1="424.70" y1="253.02" x2="426.90" y2="253.02" stroke="#111" stroke-width="1.0"/>
<text x="423.30" y="254.75" font-size="6.8" text-anchor="end">4</text>
<line x1="424.70" y1="233.30" x2="426.90" y2="233.30" stroke="#111" stroke-width="1.0"/>
<text x="423.30" y="235.03" font-size="6.8" text-anchor="end">5</text>
<line x1="424.70" y1="213.58" x2="426.90" y2="213.58" stroke="#111" stroke-width="1.0"/>
<text x="423.30" y="215.31" font-size="6.8" text-anchor="end">6</text>
<line x1="426.30" y1="331.90" x2="457.50" y2="331.90" stroke="#111" stroke-width="1.2"/>
<line x1="457.00" y1="331.90" x2="457.00" y2="334.30" stroke="#111" stroke-width="1.0"/>
<rect x="432.80" y="242.80" width="9.90" height="89.10" fill="#000"/>
<line x1="437.75" y1="232.60" x2="437.75" y2="242.80" stroke="#111" stroke-width="1.0"/>
<line x1="436.15" y1="233.00" x2="439.35" y2="233.00" stroke="#111" stroke-width="1.3"/>
<rect x="443.30" y="278.00" width="8.00" height="53.90" fill="#fff" stroke="#000" stroke-width="1.2"/>
<line x1="447.30" y1="271.40" x2="447.30" y2="277.40" stroke="#111" stroke-width="1.0"/>
<line x1="445.70" y1="271.80" x2="448.90" y2="271.80" stroke="#111" stroke-width="1.3"/>
<polyline points="438.10,229.40 438.10,222.70 446.80,222.70 446.80,269.60" stroke="#111" stroke-width="1.0" fill="none"/>
<polygon points="442.40,215.20 443.08,216.57 444.59,216.79 443.49,217.86 443.75,219.36 442.40,218.65 441.05,219.36 441.31,217.86 440.21,216.79 441.72,216.57" fill="#111"/>
<text x="431.00" y="341.30" font-size="8.5" textLength="25.03" lengthAdjust="spacingAndGlyphs">B220+</text>
<text x="435.25" y="348.10" font-size="8.5" textLength="16.55" lengthAdjust="spacingAndGlyphs">cells</text>
<text transform="translate(411.10,334.90) rotate(-90)" x="0" y="0" font-size="8.3" textLength="123.65" lengthAdjust="spacingAndGlyphs">Cells per µl blood (x10<tspan dy="-3.49" font-size="6.81">3</tspan><tspan dy="3.49">) ± s.e.m.</tspan></text>
<rect x="460.00" y="218.30" width="6.60" height="6.00" fill="#000"/>
<rect x="460.55" y="231.05" width="5.50" height="5.45" fill="#fff" stroke="#000" stroke-width="1.1"/>
<text x="469.35" y="222.80" font-size="8.3" font-style="italic" textLength="15.57" lengthAdjust="spacingAndGlyphs">Moz</text>
<text x="485.01" y="220.10" font-size="7.2" textLength="11.48" lengthAdjust="spacingAndGlyphs">+/+</text>
<text x="499.11" y="222.80" font-size="7.7" textLength="18.68" lengthAdjust="spacingAndGlyphs">(n=6)</text>
<text x="469.35" y="235.00" font-size="8.3" font-style="italic" textLength="15.57" lengthAdjust="spacingAndGlyphs">Moz</text>
<text x="484.99" y="232.30" font-size="7.2" textLength="9.98" lengthAdjust="spacingAndGlyphs">+/-</text>
<text x="499.11" y="235.00" font-size="7.7" textLength="18.68" lengthAdjust="spacingAndGlyphs">(n=8)</text>
<text x="2.35" y="377.60" font-size="17" font-weight="bold" style="fill:#000;stroke:#000;stroke-width:0.35px">G</text>
<text x="22.59" y="383.80" font-size="9.7" textLength="78.78" lengthAdjust="spacingAndGlyphs">T cell development</text>
<circle cx="17.30" cy="404.90" r="10.35" fill="#d9d9d9" stroke="#111" stroke-width="1.15"/>
<circle cx="17.90" cy="406.20" r="3.30" fill="#767676" stroke="#111" stroke-width="1.0"/>
<circle cx="59.70" cy="404.90" r="10.35" fill="#d9d9d9" stroke="#111" stroke-width="1.15"/>
<circle cx="60.30" cy="406.20" r="3.30" fill="#767676" stroke="#111" stroke-width="1.0"/>
<circle cx="59.70" cy="442.20" r="10.35" fill="#d9d9d9" stroke="#111" stroke-width="1.15"/>
<circle cx="60.30" cy="443.50" r="3.30" fill="#767676" stroke="#111" stroke-width="1.0"/>
<circle cx="59.70" cy="478.90" r="10.35" fill="#d9d9d9" stroke="#111" stroke-width="1.15"/>
<circle cx="60.30" cy="480.20" r="3.30" fill="#767676" stroke="#111" stroke-width="1.0"/>
<circle cx="27.70" cy="508.50" r="10.35" fill="#d9d9d9" stroke="#111" stroke-width="1.15"/>
<circle cx="28.30" cy="509.80" r="3.30" fill="#767676" stroke="#111" stroke-width="1.0"/>
<circle cx="92.80" cy="508.50" r="10.35" fill="#d9d9d9" stroke="#111" stroke-width="1.15"/>
<circle cx="93.40" cy="509.80" r="3.30" fill="#767676" stroke="#111" stroke-width="1.0"/>
<line x1="29.00" y1="404.60" x2="41.20" y2="404.60" stroke="#111" stroke-width="1.2"/>
<polygon points="46.60,404.60 39.40,407.90 40.50,404.60 39.40,401.30" fill="#111"/>
<polygon points="37.50,404.60 30.30,407.90 31.40,404.60 30.30,401.30" fill="#111"/>
<line x1="59.50" y1="416.00" x2="59.50" y2="423.00" stroke="#111" stroke-width="1.2"/>
<polygon points="59.50,428.80 56.20,421.20 59.50,422.30 62.80,421.20" fill="#111"/>
<line x1="59.50" y1="453.60" x2="59.50" y2="459.20" stroke="#111" stroke-width="1.2"/>
<polygon points="59.50,465.00 56.20,457.40 59.50,458.50 62.80,457.40" fill="#111"/>
<line x1="50.50" y1="491.40" x2="43.84" y2="498.00" stroke="#111" stroke-width="1.2"/>
<polygon points="40.00,501.80 42.79,494.39 44.33,497.51 47.44,499.08" fill="#111"/>
<line x1="68.70" y1="491.40" x2="75.36" y2="498.00" stroke="#111" stroke-width="1.2"/>
<polygon points="79.20,501.80 71.76,499.08 74.87,497.51 76.41,494.39" fill="#111"/>
<text x="8.32" y="423.80" font-size="8.5" textLength="17.60" lengthAdjust="spacingAndGlyphs">HSC</text>
<text x="74.06" y="409.20" font-size="8.5" textLength="16.69" lengthAdjust="spacingAndGlyphs">CLP</text>
<text x="74.84" y="434.60" font-size="8.5" textLength="25.74" lengthAdjust="spacingAndGlyphs">double</text>
<text x="71.13" y="445.00" font-size="8.5" textLength="32.45" lengthAdjust="spacingAndGlyphs">negative</text>
<text x="79.31" y="455.40" font-size="8.5" textLength="16.79" lengthAdjust="spacingAndGlyphs">(DN)</text>
<text x="73.24" y="478.90" font-size="8.5" textLength="25.74" lengthAdjust="spacingAndGlyphs">double</text>
<text x="70.02" y="486.50" font-size="8.5" textLength="30.58" lengthAdjust="spacingAndGlyphs">positive</text>
<text x="20.0" y="527.0" font-size="8.3">CD4<tspan dy="-3.2" font-size="7">+</tspan></text>
<text x="82.3" y="527.0" font-size="8.3">CD8<tspan dy="-3.2" font-size="7">+</tspan></text>
<text x="112.91" y="377.80" font-size="17" font-weight="bold" style="fill:#000;stroke:#000;stroke-width:0.35px">H</text>
<text x="184.59" y="375.80" font-size="9.7" textLength="119.36" lengthAdjust="spacingAndGlyphs">T cell development - thymus</text>
<line x1="141.20" y1="396.50" x2="141.20" y2="446.30" stroke="#111" stroke-width="1.2"/>
<line x1="141.20" y1="453.80" x2="141.20" y2="517.90" stroke="#111" stroke-width="1.2"/>
<line x1="139.00" y1="396.50" x2="141.20" y2="396.50" stroke="#111" stroke-width="1.0"/>
<text x="137.60" y="398.23" font-size="6.8" text-anchor="end">60</text>
<line x1="139.00" y1="415.50" x2="141.20" y2="415.50" stroke="#111" stroke-width="1.0"/>
<text x="137.60" y="417.23" font-size="6.8" text-anchor="end">45</text>
<line x1="139.00" y1="434.40" x2="141.20" y2="434.40" stroke="#111" stroke-width="1.0"/>
<text x="137.60" y="436.13" font-size="6.8" text-anchor="end">30</text>
<line x1="139.00" y1="515.30" x2="141.20" y2="515.30" stroke="#111" stroke-width="1.0"/>
<text x="137.60" y="517.03" font-size="6.8" text-anchor="end">0</text>
<line x1="139.00" y1="498.30" x2="141.20" y2="498.30" stroke="#111" stroke-width="1.0"/>
<text x="137.60" y="500.03" font-size="6.8" text-anchor="end">2</text>
<line x1="139.00" y1="481.30" x2="141.20" y2="481.30" stroke="#111" stroke-width="1.0"/>
<text x="137.60" y="483.03" font-size="6.8" text-anchor="end">4</text>
<line x1="139.00" y1="464.30" x2="141.20" y2="464.30" stroke="#111" stroke-width="1.0"/>
<text x="137.60" y="466.03" font-size="6.8" text-anchor="end">6</text>
<line x1="136.90" y1="450.40" x2="146.30" y2="443.40" stroke="#111" stroke-width="1.15"/>
<line x1="136.20" y1="456.70" x2="145.10" y2="450.10" stroke="#111" stroke-width="1.15"/>
<line x1="140.60" y1="515.30" x2="352.50" y2="515.30" stroke="#111" stroke-width="1.2"/>
<line x1="170.90" y1="515.30" x2="170.90" y2="517.70" stroke="#111" stroke-width="1.0"/>
<line x1="201.20" y1="515.30" x2="201.20" y2="517.70" stroke="#111" stroke-width="1.0"/>
<line x1="231.60" y1="515.30" x2="231.60" y2="517.70" stroke="#111" stroke-width="1.0"/>
<line x1="261.30" y1="515.30" x2="261.30" y2="517.70" stroke="#111" stroke-width="1.0"/>
<line x1="291.40" y1="515.30" x2="291.40" y2="517.70" stroke="#111" stroke-width="1.0"/>
<line x1="321.60" y1="515.30" x2="321.60" y2="517.70" stroke="#111" stroke-width="1.0"/>
<line x1="352.00" y1="515.30" x2="352.00" y2="517.70" stroke="#111" stroke-width="1.0"/>
<rect x="148.10" y="514.00" width="8.50" height="1.30" fill="#000"/>
<rect x="157.20" y="515.00" width="8.00" height="0.30" fill="#fff" stroke="#000" stroke-width="1.2"/>
<rect x="177.40" y="512.00" width="8.80" height="3.30" fill="#000"/>
<line x1="181.80" y1="511.30" x2="181.80" y2="512.00" stroke="#111" stroke-width="1.0"/>
<line x1="180.20" y1="511.70" x2="183.40" y2="511.70" stroke="#111" stroke-width="1.3"/>
<rect x="186.80" y="514.00" width="8.40" height="1.30" fill="#fff" stroke="#000" stroke-width="1.2"/>
<rect x="206.90" y="510.80" width="9.70" height="4.50" fill="#000"/>
<rect x="217.20" y="512.60" width="7.60" height="2.70" fill="#fff" stroke="#000" stroke-width="1.2"/>
<rect x="236.50" y="475.80" width="9.70" height="39.50" fill="#000"/>
<line x1="241.35" y1="473.20" x2="241.35" y2="475.80" stroke="#111" stroke-width="1.0"/>
<line x1="239.75" y1="473.60" x2="242.95" y2="473.60" stroke="#111" stroke-width="1.3"/>
<rect x="246.80" y="486.10" width="7.50" height="29.20" fill="#fff" stroke="#000" stroke-width="1.2"/>
<line x1="250.55" y1="483.60" x2="250.55" y2="485.50" stroke="#111" stroke-width="1.0"/>
<line x1="248.95" y1="484.00" x2="252.15" y2="484.00" stroke="#111" stroke-width="1.3"/>
<rect x="266.80" y="402.30" width="9.40" height="113.00" fill="#000"/>
<line x1="271.50" y1="394.70" x2="271.50" y2="402.30" stroke="#111" stroke-width="1.0"/>
<line x1="269.90" y1="395.10" x2="273.10" y2="395.10" stroke="#111" stroke-width="1.3"/>
<rect x="276.80" y="431.10" width="7.50" height="84.20" fill="#fff" stroke="#000" stroke-width="1.2"/>
<line x1="280.55" y1="424.50" x2="280.55" y2="430.50" stroke="#111" stroke-width="1.0"/>
<line x1="278.95" y1="424.90" x2="282.15" y2="424.90" stroke="#111" stroke-width="1.3"/>
<rect x="297.00" y="488.00" width="9.50" height="27.30" fill="#000"/>
<line x1="301.75" y1="485.50" x2="301.75" y2="488.00" stroke="#111" stroke-width="1.0"/>
<line x1="300.15" y1="485.90" x2="303.35" y2="485.90" stroke="#111" stroke-width="1.3"/>
<rect x="307.10" y="493.60" width="7.80" height="21.70" fill="#fff" stroke="#000" stroke-width="1.2"/>
<line x1="311.00" y1="490.80" x2="311.00" y2="493.00" stroke="#111" stroke-width="1.0"/>
<line x1="309.40" y1="491.20" x2="312.60" y2="491.20" stroke="#111" stroke-width="1.3"/>
<rect x="327.00" y="505.00" width="9.30" height="10.30" fill="#000"/>
<line x1="331.65" y1="504.00" x2="331.65" y2="505.00" stroke="#111" stroke-width="1.0"/>
<line x1="330.05" y1="504.40" x2="333.25" y2="504.40" stroke="#111" stroke-width="1.3"/>
<rect x="336.90" y="505.90" width="7.50" height="9.40" fill="#fff" stroke="#000" stroke-width="1.2"/>
<line x1="340.65" y1="504.30" x2="340.65" y2="505.30" stroke="#111" stroke-width="1.0"/>
<line x1="339.05" y1="504.70" x2="342.25" y2="504.70" stroke="#111" stroke-width="1.3"/>
<polyline points="153.80,510.80 153.80,504.40 163.10,504.40 163.10,510.80" stroke="#111" stroke-width="1.0" fill="none"/>
<polygon points="158.50,497.50 159.18,498.87 160.69,499.09 159.59,500.16 159.85,501.66 158.50,500.95 157.15,501.66 157.41,500.16 156.31,499.09 157.82,498.87" fill="#111"/>
<polyline points="182.70,510.40 182.70,504.40 191.90,504.40 191.90,510.80" stroke="#111" stroke-width="1.0" fill="none"/>
<polygon points="182.15,497.70 182.83,499.07 184.34,499.29 183.24,500.36 183.50,501.86 182.15,501.15 180.80,501.86 181.06,500.36 179.96,499.29 181.47,499.07" fill="#111"/>
<polygon points="187.30,497.70 187.98,499.07 189.49,499.29 188.39,500.36 188.65,501.86 187.30,501.15 185.95,501.86 186.21,500.36 185.11,499.29 186.62,499.07" fill="#111"/>
<polygon points="192.45,497.70 193.13,499.07 194.64,499.29 193.54,500.36 193.80,501.86 192.45,501.15 191.10,501.86 191.36,500.36 190.26,499.29 191.77,499.07" fill="#111"/>
<polyline points="241.40,471.20 241.40,464.90 250.80,464.90 250.80,482.40" stroke="#111" stroke-width="1.0" fill="none"/>
<polygon points="246.10,458.50 246.78,459.87 248.29,460.09 247.19,461.16 247.45,462.66 246.10,461.95 244.75,462.66 245.01,461.16 243.91,460.09 245.42,459.87" fill="#111"/>
<polyline points="271.40,393.00 271.40,386.60 280.30,386.60 280.30,419.80" stroke="#111" stroke-width="1.0" fill="none"/>
<polygon points="273.43,380.30 274.10,381.67 275.61,381.89 274.52,382.96 274.78,384.46 273.43,383.75 272.07,384.46 272.33,382.96 271.24,381.89 272.75,381.67" fill="#111"/>
<polygon points="278.57,380.30 279.25,381.67 280.76,381.89 279.67,382.96 279.93,384.46 278.57,383.75 277.22,384.46 277.48,382.96 276.39,381.89 277.90,381.67" fill="#111"/>
<polygon points="258.6,459.8 292.4,434.2 293.8,441.0 260.0,466.0" fill="#fff"/>
<line x1="258.60" y1="459.80" x2="292.40" y2="434.20" stroke="#111" stroke-width="1.2"/>
<line x1="260.00" y1="466.00" x2="293.80" y2="441.00" stroke="#111" stroke-width="1.2"/>
<text x="148.34" y="526.50" font-size="8.5" textLength="16.05" lengthAdjust="spacingAndGlyphs">DN1</text>
<text x="176.39" y="526.50" font-size="8.5" textLength="17.35" lengthAdjust="spacingAndGlyphs">DN2</text>
<text x="206.41" y="526.50" font-size="8.5" textLength="16.86" lengthAdjust="spacingAndGlyphs">DN3</text>
<text x="236.41" y="526.50" font-size="8.5" textLength="16.73" lengthAdjust="spacingAndGlyphs">DN4</text>
<text x="263.65" y="523.00" font-size="8.5" textLength="25.33" lengthAdjust="spacingAndGlyphs">double</text>
<text x="261.64" y="530.50" font-size="8.5" textLength="29.34" lengthAdjust="spacingAndGlyphs">positive</text>
<text x="296.06" y="526.00" font-size="8.5" textLength="22.16" lengthAdjust="spacingAndGlyphs">CD4+</text>
<text x="326.09" y="526.00" font-size="8.5" textLength="21.12" lengthAdjust="spacingAndGlyphs">CD8+</text>
<text transform="translate(122.40,519.10) rotate(-90)" x="0" y="0" font-size="8.3" textLength="120.84" lengthAdjust="spacingAndGlyphs">Cells per thymus (x10<tspan dy="-3.49" font-size="6.81">6</tspan><tspan dy="3.49">) ± s.e.m.</tspan></text>
<text x="370.31" y="377.80" font-size="17" font-weight="bold" style="fill:#000;stroke:#000;stroke-width:0.35px">I</text>
<text x="415.59" y="375.40" font-size="9.7" textLength="26.54" lengthAdjust="spacingAndGlyphs">T cells</text>
<text x="416.85" y="386.90" font-size="9.7" textLength="24.70" lengthAdjust="spacingAndGlyphs">blood</text>
<line x1="396.50" y1="396.90" x2="396.50" y2="517.70" stroke="#111" stroke-width="1.2"/>
<line x1="394.30" y1="515.10" x2="396.50" y2="515.10" stroke="#111" stroke-width="1.0"/>
<text x="392.90" y="516.83" font-size="6.8" text-anchor="end">0</text>
<line x1="394.30" y1="485.54" x2="396.50" y2="485.54" stroke="#111" stroke-width="1.0"/>
<text x="392.90" y="487.27" font-size="6.8" text-anchor="end">2</text>
<line x1="394.30" y1="455.98" x2="396.50" y2="455.98" stroke="#111" stroke-width="1.0"/>
<text x="392.90" y="457.71" font-size="6.8" text-anchor="end">4</text>
<line x1="394.30" y1="426.42" x2="396.50" y2="426.42" stroke="#111" stroke-width="1.0"/>
<text x="392.90" y="428.15" font-size="6.8" text-anchor="end">6</text>
<line x1="394.30" y1="396.86" x2="396.50" y2="396.86" stroke="#111" stroke-width="1.0"/>
<text x="392.90" y="398.59" font-size="6.8" text-anchor="end">8</text>
<line x1="395.90" y1="515.10" x2="456.10" y2="515.10" stroke="#111" stroke-width="1.2"/>
<line x1="426.20" y1="515.10" x2="426.20" y2="517.50" stroke="#111" stroke-width="1.0"/>
<line x1="455.60" y1="515.10" x2="455.60" y2="517.50" stroke="#111" stroke-width="1.0"/>
<rect x="402.50" y="423.50" width="9.80" height="91.60" fill="#000"/>
<line x1="407.40" y1="412.70" x2="407.40" y2="423.50" stroke="#111" stroke-width="1.0"/>
<line x1="405.80" y1="413.10" x2="409.00" y2="413.10" stroke="#111" stroke-width="1.3"/>
<rect x="412.90" y="421.60" width="7.50" height="93.50" fill="#fff" stroke="#000" stroke-width="1.2"/>
<line x1="416.65" y1="412.70" x2="416.65" y2="421.00" stroke="#111" stroke-width="1.0"/>
<line x1="415.05" y1="413.10" x2="418.25" y2="413.10" stroke="#111" stroke-width="1.3"/>
<rect x="431.90" y="457.50" width="9.60" height="57.60" fill="#000"/>
<line x1="436.70" y1="449.20" x2="436.70" y2="457.50" stroke="#111" stroke-width="1.0"/>
<line x1="435.10" y1="449.60" x2="438.30" y2="449.60" stroke="#111" stroke-width="1.3"/>
<rect x="442.10" y="444.60" width="7.70" height="70.50" fill="#fff" stroke="#000" stroke-width="1.2"/>
<line x1="445.95" y1="436.30" x2="445.95" y2="444.00" stroke="#111" stroke-width="1.0"/>
<line x1="444.35" y1="436.70" x2="447.55" y2="436.70" stroke="#111" stroke-width="1.3"/>
<text x="401.49" y="525.40" font-size="8.5" textLength="21.01" lengthAdjust="spacingAndGlyphs">CD4+</text>
<text x="430.98" y="525.40" font-size="8.5" textLength="21.53" lengthAdjust="spacingAndGlyphs">CD8+</text>
<text transform="translate(378.50,515.70) rotate(-90)" x="0" y="0" font-size="8.3" textLength="123.75" lengthAdjust="spacingAndGlyphs">Cells per µl blood (x10<tspan dy="-3.49" font-size="6.81">2</tspan><tspan dy="3.49">) ± s.e.m.</tspan></text>
<rect x="460.10" y="393.40" width="6.60" height="6.00" fill="#000"/>
<rect x="460.65" y="406.35" width="5.50" height="5.45" fill="#fff" stroke="#000" stroke-width="1.1"/>
<text x="469.45" y="397.90" font-size="8.3" font-style="italic" textLength="15.57" lengthAdjust="spacingAndGlyphs">Moz</text>
<text x="485.11" y="395.20" font-size="7.2" textLength="11.48" lengthAdjust="spacingAndGlyphs">+/+</text>
<text x="499.21" y="397.90" font-size="7.7" textLength="18.68" lengthAdjust="spacingAndGlyphs">(n=6)</text>
<text x="469.45" y="410.30" font-size="8.3" font-style="italic" textLength="15.57" lengthAdjust="spacingAndGlyphs">Moz</text>
<text x="485.09" y="407.60" font-size="7.2" textLength="9.98" lengthAdjust="spacingAndGlyphs">+/-</text>
<text x="499.21" y="410.30" font-size="7.7" textLength="18.68" lengthAdjust="spacingAndGlyphs">(n=8)</text>
<text x="3.29" y="558.00" font-size="17" font-weight="bold" style="fill:#000;stroke:#000;stroke-width:0.35px">J</text>
<text x="173.91" y="555.20" font-size="9.7" textLength="230.96" lengthAdjust="spacingAndGlyphs">Myeloid, erythrocyte and megakaryocyte development</text>
<circle cx="88.60" cy="592.20" r="10.35" fill="#d9d9d9" stroke="#111" stroke-width="1.15"/>
<circle cx="89.20" cy="593.50" r="3.30" fill="#767676" stroke="#111" stroke-width="1.0"/>
<circle cx="138.80" cy="592.30" r="10.35" fill="#d9d9d9" stroke="#111" stroke-width="1.15"/>
<circle cx="139.40" cy="593.60" r="3.30" fill="#767676" stroke="#111" stroke-width="1.0"/>
<circle cx="189.80" cy="592.20" r="10.35" fill="#d9d9d9" stroke="#111" stroke-width="1.15"/>
<circle cx="190.40" cy="593.50" r="3.30" fill="#767676" stroke="#111" stroke-width="1.0"/>
<circle cx="255.50" cy="592.50" r="10.35" fill="#d9d9d9" stroke="#111" stroke-width="1.15"/>
<circle cx="256.10" cy="593.80" r="3.30" fill="#767676" stroke="#111" stroke-width="1.0"/>
<circle cx="296.30" cy="592.30" r="10.35" fill="#d9d9d9" stroke="#111" stroke-width="1.15"/>
<circle cx="296.90" cy="593.60" r="3.30" fill="#767676" stroke="#111" stroke-width="1.0"/>
<circle cx="336.30" cy="592.30" r="10.35" fill="#d9d9d9" stroke="#111" stroke-width="1.15"/>
<circle cx="336.90" cy="593.60" r="3.30" fill="#767676" stroke="#111" stroke-width="1.0"/>
<circle cx="375.50" cy="592.50" r="10.35" fill="#d9d9d9" stroke="#111" stroke-width="1.15"/>
<circle cx="376.10" cy="593.80" r="3.30" fill="#767676" stroke="#111" stroke-width="1.0"/>
<circle cx="138.80" cy="633.00" r="10.35" fill="#d9d9d9" stroke="#111" stroke-width="1.15"/>
<circle cx="139.40" cy="634.30" r="3.30" fill="#767676" stroke="#111" stroke-width="1.0"/>
<circle cx="255.50" cy="633.30" r="10.35" fill="#d9d9d9" stroke="#111" stroke-width="1.15"/>
<circle cx="256.10" cy="634.60" r="3.30" fill="#767676" stroke="#111" stroke-width="1.0"/>
<line x1="102.00" y1="591.50" x2="116.60" y2="591.50" stroke="#111" stroke-width="1.2"/>
<polygon points="122.60,591.50 114.80,594.90 115.90,591.50 114.80,588.10" fill="#111"/>
<polygon points="112.30,591.50 104.50,594.90 105.60,591.50 104.50,588.10" fill="#111"/>
<line x1="154.90" y1="591.50" x2="166.60" y2="591.50" stroke="#111" stroke-width="1.2"/>
<polygon points="172.80,591.50 164.80,594.90 165.90,591.50 164.80,588.10" fill="#111"/>
<line x1="209.60" y1="591.50" x2="227.00" y2="591.50" stroke="#111" stroke-width="1.2"/>
<line x1="224.00" y1="591.50" x2="229.70" y2="591.50" stroke="#111" stroke-width="1.2"/>
<polygon points="235.10,591.50 227.90,594.80 229.00,591.50 227.90,588.20" fill="#111"/>
<line x1="224.50" y1="590.90" x2="224.50" y2="634.00" stroke="#111" stroke-width="1.2"/>
<line x1="224.00" y1="633.40" x2="229.70" y2="633.40" stroke="#111" stroke-width="1.2"/>
<polygon points="235.10,633.40 227.90,636.70 229.00,633.40 227.90,630.10" fill="#111"/>
<line x1="269.50" y1="592.00" x2="275.40" y2="592.00" stroke="#111" stroke-width="1.2"/>
<polygon points="280.80,592.00 273.60,595.30 274.70,592.00 273.60,588.70" fill="#111"/>
<line x1="308.80" y1="592.00" x2="316.00" y2="592.00" stroke="#111" stroke-width="1.2"/>
<polygon points="321.40,592.00 314.20,595.30 315.30,592.00 314.20,588.70" fill="#111"/>
<line x1="348.80" y1="592.00" x2="356.00" y2="592.00" stroke="#111" stroke-width="1.2"/>
<polygon points="361.40,592.00 354.20,595.30 355.30,592.00 354.20,588.70" fill="#111"/>
<line x1="389.30" y1="591.40" x2="401.60" y2="591.40" stroke="#111" stroke-width="1.3" stroke-dasharray="1.9,1.8"/>
<polygon points="407.00,591.40 399.80,594.60 400.90,591.40 399.80,588.20" fill="#111"/>
<line x1="138.80" y1="606.50" x2="138.80" y2="612.40" stroke="#111" stroke-width="1.2"/>
<polygon points="138.80,617.80 135.50,610.60 138.80,611.70 142.10,610.60" fill="#111"/>
<line x1="152.60" y1="634.30" x2="164.70" y2="634.30" stroke="#111" stroke-width="1.3" stroke-dasharray="1.0,1.1"/>
<polygon points="170.90,634.30 162.90,637.50 164.00,634.30 162.90,631.10" fill="#111"/>
<line x1="270.60" y1="633.50" x2="291.80" y2="633.50" stroke="#111" stroke-width="1.3" stroke-dasharray="2.1,2.0"/>
<polygon points="298.00,633.50 290.00,636.60 291.10,633.50 290.00,630.40" fill="#111"/>
<circle cx="183.70" cy="630.00" r="7.20" fill="#d9d9d9" stroke="#111" stroke-width="1.1"/>
<circle cx="184.40" cy="630.60" r="2.30" fill="#767676" stroke="#111" stroke-width="0.9"/>
<circle cx="199.30" cy="631.20" r="7.20" fill="#d9d9d9" stroke="#111" stroke-width="1.1"/>
<circle cx="199.40" cy="631.70" r="2.30" fill="#767676" stroke="#111" stroke-width="0.9"/>
<circle cx="206.10" cy="619.10" r="7.20" fill="#d9d9d9" stroke="#111" stroke-width="1.1"/>
<circle cx="206.10" cy="620.20" r="2.30" fill="#767676" stroke="#111" stroke-width="0.9"/>
<circle cx="191.00" cy="618.20" r="7.20" fill="#d9d9d9" stroke="#111" stroke-width="1.1"/>
<circle cx="192.20" cy="619.30" r="2.30" fill="#767676" stroke="#111" stroke-width="0.9"/>
<circle cx="189.70" cy="638.30" r="7.20" fill="#d9d9d9" stroke="#111" stroke-width="1.1"/>
<circle cx="190.10" cy="639.00" r="2.30" fill="#767676" stroke="#111" stroke-width="0.9"/>
<circle cx="419.3" cy="579.7" r="4.2" fill="#e6e6e6" stroke="#111" stroke-width="1.1"/>
<circle cx="419.3" cy="579.7" r="2.0" fill="#959595"/>
<circle cx="437.1" cy="581.4" r="4.2" fill="#e6e6e6" stroke="#111" stroke-width="1.1"/>
<circle cx="437.1" cy="581.4" r="2.0" fill="#959595"/>
<circle cx="440.2" cy="588.5" r="4.2" fill="#e6e6e6" stroke="#111" stroke-width="1.1"/>
<circle cx="440.2" cy="588.5" r="2.0" fill="#959595"/>
<circle cx="413.7" cy="592.7" r="4.2" fill="#e6e6e6" stroke="#111" stroke-width="1.1"/>
<circle cx="413.7" cy="592.7" r="2.0" fill="#959595"/>
<circle cx="421.0" cy="595.8" r="4.2" fill="#e6e6e6" stroke="#111" stroke-width="1.1"/>
<circle cx="421.0" cy="595.8" r="2.0" fill="#959595"/>
<circle cx="439.5" cy="598.2" r="4.2" fill="#e6e6e6" stroke="#111" stroke-width="1.1"/>
<circle cx="439.5" cy="598.2" r="2.0" fill="#959595"/>
<circle cx="432.3" cy="602.9" r="4.2" fill="#e6e6e6" stroke="#111" stroke-width="1.1"/>
<circle cx="432.3" cy="602.9" r="2.0" fill="#959595"/>
<circle cx="409.8" cy="584.5" r="4.2" fill="#e6e6e6" stroke="#111" stroke-width="1.1"/>
<circle cx="409.8" cy="584.5" r="2.0" fill="#959595"/>
<circle cx="421.1" cy="586.8" r="4.2" fill="#e6e6e6" stroke="#111" stroke-width="1.1"/>
<circle cx="421.1" cy="586.8" r="2.0" fill="#959595"/>
<circle cx="430.0" cy="584.5" r="4.2" fill="#e6e6e6" stroke="#111" stroke-width="1.1"/>
<circle cx="430.0" cy="584.5" r="2.0" fill="#959595"/>
<circle cx="435.5" cy="591.4" r="4.2" fill="#e6e6e6" stroke="#111" stroke-width="1.1"/>
<circle cx="435.5" cy="591.4" r="2.0" fill="#959595"/>
<circle cx="428.2" cy="597.6" r="4.2" fill="#e6e6e6" stroke="#111" stroke-width="1.1"/>
<circle cx="428.2" cy="597.6" r="2.0" fill="#959595"/>
<circle cx="414.5" cy="600.5" r="4.2" fill="#e6e6e6" stroke="#111" stroke-width="1.1"/>
<circle cx="414.5" cy="600.5" r="2.0" fill="#959595"/>
<g><circle cx="321.70" cy="628.30" r="2.45" fill="#111"/><circle cx="326.90" cy="628.30" r="2.45" fill="#111"/><rect x="321.70" y="626.55" width="5.20" height="3.5" fill="#111"/><circle cx="321.70" cy="628.30" r="1.35" fill="#eee"/><circle cx="326.90" cy="628.30" r="1.35" fill="#eee"/><rect x="321.70" y="627.60" width="5.20" height="1.4" fill="#eee"/></g>
<g><circle cx="311.40" cy="630.20" r="2.45" fill="#111"/><circle cx="316.60" cy="630.20" r="2.45" fill="#111"/><rect x="311.40" y="628.45" width="5.20" height="3.5" fill="#111"/><circle cx="311.40" cy="630.20" r="1.35" fill="#eee"/><circle cx="316.60" cy="630.20" r="1.35" fill="#eee"/><rect x="311.40" y="629.50" width="5.20" height="1.4" fill="#eee"/></g>
<g><circle cx="335.90" cy="632.00" r="2.45" fill="#111"/><circle cx="341.10" cy="632.00" r="2.45" fill="#111"/><rect x="335.90" y="630.25" width="5.20" height="3.5" fill="#111"/><circle cx="335.90" cy="632.00" r="1.35" fill="#eee"/><circle cx="341.10" cy="632.00" r="1.35" fill="#eee"/><rect x="335.90" y="631.30" width="5.20" height="1.4" fill="#eee"/></g>
<g><circle cx="325.80" cy="633.80" r="2.45" fill="#111"/><circle cx="331.00" cy="633.80" r="2.45" fill="#111"/><rect x="325.80" y="632.05" width="5.20" height="3.5" fill="#111"/><circle cx="325.80" cy="633.80" r="1.35" fill="#eee"/><circle cx="331.00" cy="633.80" r="1.35" fill="#eee"/><rect x="325.80" y="633.10" width="5.20" height="1.4" fill="#eee"/></g>
<g><circle cx="306.70" cy="634.40" r="2.45" fill="#111"/><circle cx="311.90" cy="634.40" r="2.45" fill="#111"/><rect x="306.70" y="632.65" width="5.20" height="3.5" fill="#111"/><circle cx="306.70" cy="634.40" r="1.35" fill="#eee"/><circle cx="311.90" cy="634.40" r="1.35" fill="#eee"/><rect x="306.70" y="633.70" width="5.20" height="1.4" fill="#eee"/></g>
<g><circle cx="316.30" cy="634.40" r="2.45" fill="#111"/><circle cx="321.50" cy="634.40" r="2.45" fill="#111"/><rect x="316.30" y="632.65" width="5.20" height="3.5" fill="#111"/><circle cx="316.30" cy="634.40" r="1.35" fill="#eee"/><circle cx="321.50" cy="634.40" r="1.35" fill="#eee"/><rect x="316.30" y="633.70" width="5.20" height="1.4" fill="#eee"/></g>
<g><circle cx="330.60" cy="637.80" r="2.45" fill="#111"/><circle cx="335.80" cy="637.80" r="2.45" fill="#111"/><rect x="330.60" y="636.05" width="5.20" height="3.5" fill="#111"/><circle cx="330.60" cy="637.80" r="1.35" fill="#eee"/><circle cx="335.80" cy="637.80" r="1.35" fill="#eee"/><rect x="330.60" y="637.10" width="5.20" height="1.4" fill="#eee"/></g>
<g><circle cx="320.60" cy="638.10" r="2.45" fill="#111"/><circle cx="325.80" cy="638.10" r="2.45" fill="#111"/><rect x="320.60" y="636.35" width="5.20" height="3.5" fill="#111"/><circle cx="320.60" cy="638.10" r="1.35" fill="#eee"/><circle cx="325.80" cy="638.10" r="1.35" fill="#eee"/><rect x="320.60" y="637.40" width="5.20" height="1.4" fill="#eee"/></g>
<text x="78.30" y="576.60" font-size="8.5" textLength="18.13" lengthAdjust="spacingAndGlyphs">HSC</text>
<text x="129.25" y="576.60" font-size="8.5" textLength="19.82" lengthAdjust="spacingAndGlyphs">CMP</text>
<text x="180.78" y="576.60" font-size="8.5" textLength="18.98" lengthAdjust="spacingAndGlyphs">MEP</text>
<text x="250.17" y="567.00" font-size="8.5" textLength="11.98" lengthAdjust="spacingAndGlyphs">pro</text>
<text x="250.35" y="577.00" font-size="8.5" textLength="11.47" lengthAdjust="spacingAndGlyphs">ery</text>
<text x="284.85" y="577.50" font-size="8.5" textLength="19.47" lengthAdjust="spacingAndGlyphs">ery.A</text>
<text x="323.65" y="577.50" font-size="8.5" textLength="19.08" lengthAdjust="spacingAndGlyphs">ery.B</text>
<text x="362.85" y="577.50" font-size="8.5" textLength="19.77" lengthAdjust="spacingAndGlyphs">ery.C</text>
<text x="400.34" y="571.90" font-size="8.5" textLength="46.78" lengthAdjust="spacingAndGlyphs">erythrocytes</text>
<text x="129.77" y="651.30" font-size="8.5" textLength="19.27" lengthAdjust="spacingAndGlyphs">GMP</text>
<text x="185.14" y="651.30" font-size="8.5" textLength="26.34" lengthAdjust="spacingAndGlyphs">mature</text>
<text x="183.43" y="661.30" font-size="8.5" textLength="29.42" lengthAdjust="spacingAndGlyphs">myeloid</text>
<text x="227.63" y="651.30" font-size="8.5" textLength="61.97" lengthAdjust="spacingAndGlyphs">megakaryocytes</text>
<text x="304.65" y="651.30" font-size="8.5" textLength="31.76" lengthAdjust="spacingAndGlyphs">platelets</text>
<text x="1.61" y="682.80" font-size="17" font-weight="bold" style="fill:#000;stroke:#000;stroke-width:0.35px">K</text>
<text x="47.40" y="681.30" font-size="9.7" textLength="49.75" lengthAdjust="spacingAndGlyphs">Progenitors</text>
<text x="44.08" y="692.50" font-size="9.7" textLength="55.69" lengthAdjust="spacingAndGlyphs">bone marrow</text>
<line x1="27.70" y1="693.50" x2="27.70" y2="814.10" stroke="#111" stroke-width="1.2"/>
<line x1="25.50" y1="811.50" x2="27.70" y2="811.50" stroke="#111" stroke-width="1.0"/>
<text x="24.10" y="813.23" font-size="6.8" text-anchor="end">0</text>
<line x1="25.50" y1="791.83" x2="27.70" y2="791.83" stroke="#111" stroke-width="1.0"/>
<text x="24.10" y="793.56" font-size="6.8" text-anchor="end">3</text>
<line x1="25.50" y1="772.16" x2="27.70" y2="772.16" stroke="#111" stroke-width="1.0"/>
<text x="24.10" y="773.89" font-size="6.8" text-anchor="end">6</text>
<line x1="25.50" y1="752.50" x2="27.70" y2="752.50" stroke="#111" stroke-width="1.0"/>
<text x="24.10" y="754.22" font-size="6.8" text-anchor="end">9</text>
<line x1="25.50" y1="732.83" x2="27.70" y2="732.83" stroke="#111" stroke-width="1.0"/>
<text x="24.10" y="734.56" font-size="6.8" text-anchor="end">12</text>
<line x1="25.50" y1="713.16" x2="27.70" y2="713.16" stroke="#111" stroke-width="1.0"/>
<text x="24.10" y="714.89" font-size="6.8" text-anchor="end">15</text>
<line x1="25.50" y1="693.49" x2="27.70" y2="693.49" stroke="#111" stroke-width="1.0"/>
<text x="24.10" y="695.22" font-size="6.8" text-anchor="end">18</text>
<line x1="27.10" y1="811.50" x2="117.40" y2="811.50" stroke="#111" stroke-width="1.2"/>
<line x1="57.60" y1="811.50" x2="57.60" y2="813.90" stroke="#111" stroke-width="1.0"/>
<line x1="87.70" y1="811.50" x2="87.70" y2="813.90" stroke="#111" stroke-width="1.0"/>
<line x1="116.90" y1="811.50" x2="116.90" y2="813.90" stroke="#111" stroke-width="1.0"/>
<rect x="33.80" y="767.00" width="10.00" height="44.50" fill="#000"/>
<line x1="38.80" y1="762.50" x2="38.80" y2="767.00" stroke="#111" stroke-width="1.0"/>
<line x1="37.20" y1="762.90" x2="40.40" y2="762.90" stroke="#111" stroke-width="1.3"/>
<rect x="44.40" y="761.10" width="8.00" height="50.40" fill="#fff" stroke="#000" stroke-width="1.2"/>
<line x1="48.40" y1="758.60" x2="48.40" y2="760.50" stroke="#111" stroke-width="1.0"/>
<line x1="46.80" y1="759.00" x2="50.00" y2="759.00" stroke="#111" stroke-width="1.3"/>
<rect x="63.80" y="792.00" width="10.00" height="19.50" fill="#000"/>
<line x1="68.80" y1="789.50" x2="68.80" y2="792.00" stroke="#111" stroke-width="1.0"/>
<line x1="67.20" y1="789.90" x2="70.40" y2="789.90" stroke="#111" stroke-width="1.3"/>
<rect x="74.40" y="793.60" width="7.50" height="17.90" fill="#fff" stroke="#000" stroke-width="1.2"/>
<line x1="78.15" y1="791.20" x2="78.15" y2="793.00" stroke="#111" stroke-width="1.0"/>
<line x1="76.55" y1="791.60" x2="79.75" y2="791.60" stroke="#111" stroke-width="1.3"/>
<rect x="93.80" y="716.90" width="9.70" height="94.60" fill="#000"/>
<line x1="98.65" y1="709.20" x2="98.65" y2="716.90" stroke="#111" stroke-width="1.0"/>
<line x1="97.05" y1="709.60" x2="100.25" y2="709.60" stroke="#111" stroke-width="1.3"/>
<rect x="104.10" y="722.10" width="7.60" height="89.40" fill="#fff" stroke="#000" stroke-width="1.2"/>
<line x1="107.90" y1="715.40" x2="107.90" y2="721.50" stroke="#111" stroke-width="1.0"/>
<line x1="106.30" y1="715.80" x2="109.50" y2="715.80" stroke="#111" stroke-width="1.3"/>
<text x="33.55" y="822.00" font-size="8.5" textLength="19.72" lengthAdjust="spacingAndGlyphs">CMP</text>
<text x="63.26" y="822.00" font-size="8.5" textLength="19.51" lengthAdjust="spacingAndGlyphs">MEP</text>
<text x="93.58" y="822.00" font-size="8.5" textLength="18.96" lengthAdjust="spacingAndGlyphs">GMP</text>
<text transform="translate(9.50,809.10) rotate(-90)" x="0" y="0" font-size="8.3" textLength="115.04" lengthAdjust="spacingAndGlyphs">Cells per femur (x10<tspan dy="-3.49" font-size="6.81">4</tspan><tspan dy="3.49">) ± s.e.m.</tspan></text>
<text x="122.91" y="682.80" font-size="17" font-weight="bold" style="fill:#000;stroke:#000;stroke-width:0.35px">L</text>
<text x="157.42" y="681.30" font-size="9.7" textLength="98.73" lengthAdjust="spacingAndGlyphs">Erythrocyte progenitors</text>
<text x="179.09" y="692.50" font-size="9.7" textLength="55.19" lengthAdjust="spacingAndGlyphs">bone marrow</text>
<line x1="145.80" y1="693.50" x2="145.80" y2="814.10" stroke="#111" stroke-width="1.2"/>
<line x1="143.60" y1="811.50" x2="145.80" y2="811.50" stroke="#111" stroke-width="1.0"/>
<text x="142.20" y="813.23" font-size="6.8" text-anchor="end">0</text>
<line x1="143.60" y1="787.90" x2="145.80" y2="787.90" stroke="#111" stroke-width="1.0"/>
<text x="142.20" y="789.63" font-size="6.8" text-anchor="end">2</text>
<line x1="143.60" y1="764.30" x2="145.80" y2="764.30" stroke="#111" stroke-width="1.0"/>
<text x="142.20" y="766.03" font-size="6.8" text-anchor="end">4</text>
<line x1="143.60" y1="740.70" x2="145.80" y2="740.70" stroke="#111" stroke-width="1.0"/>
<text x="142.20" y="742.43" font-size="6.8" text-anchor="end">6</text>
<line x1="143.60" y1="717.10" x2="145.80" y2="717.10" stroke="#111" stroke-width="1.0"/>
<text x="142.20" y="718.83" font-size="6.8" text-anchor="end">8</text>
<line x1="143.60" y1="693.50" x2="145.80" y2="693.50" stroke="#111" stroke-width="1.0"/>
<text x="142.20" y="695.23" font-size="6.8" text-anchor="end">10</text>
<line x1="145.20" y1="811.50" x2="265.00" y2="811.50" stroke="#111" stroke-width="1.2"/>
<line x1="175.00" y1="811.50" x2="175.00" y2="813.90" stroke="#111" stroke-width="1.0"/>
<line x1="204.60" y1="811.50" x2="204.60" y2="813.90" stroke="#111" stroke-width="1.0"/>
<line x1="234.50" y1="811.50" x2="234.50" y2="813.90" stroke="#111" stroke-width="1.0"/>
<line x1="264.50" y1="811.50" x2="264.50" y2="813.90" stroke="#111" stroke-width="1.0"/>
<rect x="152.00" y="808.70" width="9.70" height="2.80" fill="#000"/>
<rect x="162.30" y="809.90" width="7.70" height="1.60" fill="#fff" stroke="#000" stroke-width="1.2"/>
<rect x="181.30" y="763.00" width="10.00" height="48.50" fill="#000"/>
<line x1="186.30" y1="760.50" x2="186.30" y2="763.00" stroke="#111" stroke-width="1.0"/>
<line x1="184.70" y1="760.90" x2="187.90" y2="760.90" stroke="#111" stroke-width="1.3"/>
<rect x="191.90" y="768.10" width="7.00" height="43.40" fill="#fff" stroke="#000" stroke-width="1.2"/>
<line x1="195.40" y1="765.50" x2="195.40" y2="767.50" stroke="#111" stroke-width="1.0"/>
<line x1="193.80" y1="765.90" x2="197.00" y2="765.90" stroke="#111" stroke-width="1.3"/>
<rect x="211.30" y="743.00" width="9.00" height="68.50" fill="#000"/>
<line x1="215.80" y1="738.80" x2="215.80" y2="743.00" stroke="#111" stroke-width="1.0"/>
<line x1="214.20" y1="739.20" x2="217.40" y2="739.20" stroke="#111" stroke-width="1.3"/>
<rect x="220.90" y="741.10" width="8.00" height="70.40" fill="#fff" stroke="#000" stroke-width="1.2"/>
<line x1="224.90" y1="736.30" x2="224.90" y2="740.50" stroke="#111" stroke-width="1.0"/>
<line x1="223.30" y1="736.70" x2="226.50" y2="736.70" stroke="#111" stroke-width="1.3"/>
<rect x="240.50" y="761.30" width="9.50" height="50.20" fill="#000"/>
<line x1="245.25" y1="756.30" x2="245.25" y2="761.30" stroke="#111" stroke-width="1.0"/>
<line x1="243.65" y1="756.70" x2="246.85" y2="756.70" stroke="#111" stroke-width="1.3"/>
<rect x="250.60" y="757.60" width="8.30" height="53.90" fill="#fff" stroke="#000" stroke-width="1.2"/>
<line x1="254.75" y1="754.50" x2="254.75" y2="757.00" stroke="#111" stroke-width="1.0"/>
<line x1="253.15" y1="754.90" x2="256.35" y2="754.90" stroke="#111" stroke-width="1.3"/>
<text x="146.64" y="820.80" font-size="8.5" textLength="27.37" lengthAdjust="spacingAndGlyphs">pro-ery</text>
<text x="179.84" y="820.80" font-size="8.5" textLength="19.98" lengthAdjust="spacingAndGlyphs">ery.A</text>
<text x="211.14" y="820.80" font-size="8.5" textLength="19.60" lengthAdjust="spacingAndGlyphs">ery.B</text>
<text x="241.15" y="820.80" font-size="8.5" textLength="19.46" lengthAdjust="spacingAndGlyphs">ery.C</text>
<text transform="translate(130.50,812.20) rotate(-90)" x="0" y="0" font-size="8.3" textLength="114.44" lengthAdjust="spacingAndGlyphs">Cells per femur (x10<tspan dy="-3.49" font-size="6.81">6</tspan><tspan dy="3.49">) ± s.e.m.</tspan></text>
<text x="268.61" y="682.80" font-size="17" font-weight="bold" style="fill:#000;stroke:#000;stroke-width:0.35px">M</text>
<text x="313.21" y="681.30" font-size="9.7" textLength="66.27" lengthAdjust="spacingAndGlyphs">Myeloid &amp; meg.</text>
<text x="318.38" y="692.50" font-size="9.7" textLength="55.89" lengthAdjust="spacingAndGlyphs">bone marrow</text>
<line x1="295.40" y1="694.50" x2="295.40" y2="815.00" stroke="#111" stroke-width="1.2"/>
<line x1="293.20" y1="812.40" x2="295.40" y2="812.40" stroke="#111" stroke-width="1.0"/>
<text x="291.80" y="814.13" font-size="6.8" text-anchor="end">0</text>
<line x1="293.20" y1="792.75" x2="295.40" y2="792.75" stroke="#111" stroke-width="1.0"/>
<text x="291.80" y="794.48" font-size="6.8" text-anchor="end">2</text>
<line x1="293.20" y1="773.10" x2="295.40" y2="773.10" stroke="#111" stroke-width="1.0"/>
<text x="291.80" y="774.83" font-size="6.8" text-anchor="end">4</text>
<line x1="293.20" y1="753.45" x2="295.40" y2="753.45" stroke="#111" stroke-width="1.0"/>
<text x="291.80" y="755.18" font-size="6.8" text-anchor="end">6</text>
<line x1="293.20" y1="733.80" x2="295.40" y2="733.80" stroke="#111" stroke-width="1.0"/>
<text x="291.80" y="735.53" font-size="6.8" text-anchor="end">8</text>
<line x1="293.20" y1="714.15" x2="295.40" y2="714.15" stroke="#111" stroke-width="1.0"/>
<text x="291.80" y="715.88" font-size="6.8" text-anchor="end">10</text>
<line x1="293.20" y1="694.50" x2="295.40" y2="694.50" stroke="#111" stroke-width="1.0"/>
<text x="291.80" y="696.23" font-size="6.8" text-anchor="end">12</text>
<line x1="294.80" y1="812.40" x2="385.00" y2="812.40" stroke="#111" stroke-width="1.2"/>
<line x1="324.60" y1="812.40" x2="324.60" y2="814.80" stroke="#111" stroke-width="1.0"/>
<line x1="355.00" y1="812.40" x2="355.00" y2="814.80" stroke="#111" stroke-width="1.0"/>
<line x1="384.50" y1="812.40" x2="384.50" y2="814.80" stroke="#111" stroke-width="1.0"/>
<rect x="302.00" y="785.00" width="9.30" height="27.40" fill="#000"/>
<line x1="306.65" y1="782.00" x2="306.65" y2="785.00" stroke="#111" stroke-width="1.0"/>
<line x1="305.05" y1="782.40" x2="308.25" y2="782.40" stroke="#111" stroke-width="1.3"/>
<rect x="311.90" y="790.60" width="8.00" height="21.80" fill="#fff" stroke="#000" stroke-width="1.2"/>
<line x1="315.90" y1="788.00" x2="315.90" y2="790.00" stroke="#111" stroke-width="1.0"/>
<line x1="314.30" y1="788.40" x2="317.50" y2="788.40" stroke="#111" stroke-width="1.3"/>
<rect x="331.50" y="730.50" width="9.80" height="81.90" fill="#000"/>
<line x1="336.40" y1="725.50" x2="336.40" y2="730.50" stroke="#111" stroke-width="1.0"/>
<line x1="334.80" y1="725.90" x2="338.00" y2="725.90" stroke="#111" stroke-width="1.3"/>
<rect x="341.90" y="735.10" width="7.50" height="77.30" fill="#fff" stroke="#000" stroke-width="1.2"/>
<line x1="345.65" y1="729.50" x2="345.65" y2="734.50" stroke="#111" stroke-width="1.0"/>
<line x1="344.05" y1="729.90" x2="347.25" y2="729.90" stroke="#111" stroke-width="1.3"/>
<rect x="361.30" y="759.30" width="9.20" height="53.10" fill="#000"/>
<line x1="365.90" y1="755.80" x2="365.90" y2="759.30" stroke="#111" stroke-width="1.0"/>
<line x1="364.30" y1="756.20" x2="367.50" y2="756.20" stroke="#111" stroke-width="1.3"/>
<rect x="371.10" y="756.90" width="7.80" height="55.50" fill="#fff" stroke="#000" stroke-width="1.2"/>
<line x1="375.00" y1="752.50" x2="375.00" y2="756.30" stroke="#111" stroke-width="1.0"/>
<line x1="373.40" y1="752.90" x2="376.60" y2="752.90" stroke="#111" stroke-width="1.3"/>
<text x="300.93" y="823.00" font-size="8.5" textLength="19.16" lengthAdjust="spacingAndGlyphs">meg.</text>
<text x="324.60" y="823.00" font-size="8.5" textLength="31.29" lengthAdjust="spacingAndGlyphs">myeloid</text>
<text x="358.44" y="820.00" font-size="8.5" textLength="26.23" lengthAdjust="spacingAndGlyphs">macro-</text>
<text x="360.19" y="828.20" font-size="8.5" textLength="21.96" lengthAdjust="spacingAndGlyphs">phage</text>
<text transform="translate(277.20,809.90) rotate(-90)" x="0" y="0" font-size="8.3" textLength="114.24" lengthAdjust="spacingAndGlyphs">Cells per femur (x10<tspan dy="-3.49" font-size="6.81">6</tspan><tspan dy="3.49">) ± s.e.m.</tspan></text>
<text x="399.61" y="682.80" font-size="17" font-weight="bold" style="fill:#000;stroke:#000;stroke-width:0.35px">N</text>
<text x="426.90" y="681.30" font-size="9.7" textLength="33.53" lengthAdjust="spacingAndGlyphs">Myeloid</text>
<text x="430.84" y="692.50" font-size="9.7" textLength="25.12" lengthAdjust="spacingAndGlyphs">blood</text>
<line x1="424.60" y1="694.20" x2="424.60" y2="815.20" stroke="#111" stroke-width="1.2"/>
<line x1="422.40" y1="812.60" x2="424.60" y2="812.60" stroke="#111" stroke-width="1.0"/>
<text x="421.00" y="814.33" font-size="6.8" text-anchor="end">0</text>
<line x1="422.40" y1="788.92" x2="424.60" y2="788.92" stroke="#111" stroke-width="1.0"/>
<text x="421.00" y="790.65" font-size="6.8" text-anchor="end">3</text>
<line x1="422.40" y1="765.24" x2="424.60" y2="765.24" stroke="#111" stroke-width="1.0"/>
<text x="421.00" y="766.97" font-size="6.8" text-anchor="end">6</text>
<line x1="422.40" y1="741.56" x2="424.60" y2="741.56" stroke="#111" stroke-width="1.0"/>
<text x="421.00" y="743.29" font-size="6.8" text-anchor="end">9</text>
<line x1="422.40" y1="717.88" x2="424.60" y2="717.88" stroke="#111" stroke-width="1.0"/>
<text x="421.00" y="719.61" font-size="6.8" text-anchor="end">12</text>
<line x1="422.40" y1="694.21" x2="424.60" y2="694.21" stroke="#111" stroke-width="1.0"/>
<text x="421.00" y="695.93" font-size="6.8" text-anchor="end">15</text>
<line x1="424.00" y1="812.60" x2="454.90" y2="812.60" stroke="#111" stroke-width="1.2"/>
<line x1="454.40" y1="812.60" x2="454.40" y2="815.00" stroke="#111" stroke-width="1.0"/>
<rect x="432.00" y="722.50" width="9.50" height="90.10" fill="#000"/>
<line x1="436.75" y1="713.00" x2="436.75" y2="722.50" stroke="#111" stroke-width="1.0"/>
<line x1="435.15" y1="713.40" x2="438.35" y2="713.40" stroke="#111" stroke-width="1.3"/>
<rect x="442.10" y="721.10" width="7.80" height="91.50" fill="#fff" stroke="#000" stroke-width="1.2"/>
<line x1="446.00" y1="715.00" x2="446.00" y2="720.50" stroke="#111" stroke-width="1.0"/>
<line x1="444.40" y1="715.40" x2="447.60" y2="715.40" stroke="#111" stroke-width="1.3"/>
<text x="428.30" y="822.10" font-size="8.5" textLength="26.03" lengthAdjust="spacingAndGlyphs">Mac1+</text>
<text x="432.07" y="828.60" font-size="8.5" textLength="19.15" lengthAdjust="spacingAndGlyphs">Gr1+</text>
<text transform="translate(406.60,816.10) rotate(-90)" x="0" y="0" font-size="8.3" textLength="123.44" lengthAdjust="spacingAndGlyphs">Cells per µl blood (x10<tspan dy="-3.49" font-size="6.81">2</tspan><tspan dy="3.49">) ± s.e.m.</tspan></text>
<rect x="460.30" y="700.50" width="6.60" height="6.00" fill="#000"/>
<rect x="460.85" y="714.05" width="5.50" height="5.45" fill="#fff" stroke="#000" stroke-width="1.1"/>
<text x="469.65" y="705.00" font-size="8.3" font-style="italic" textLength="15.57" lengthAdjust="spacingAndGlyphs">Moz</text>
<text x="485.31" y="702.30" font-size="7.2" textLength="11.48" lengthAdjust="spacingAndGlyphs">+/+</text>
<text x="499.41" y="705.00" font-size="7.7" textLength="18.68" lengthAdjust="spacingAndGlyphs">(n=6)</text>
<text x="469.65" y="718.00" font-size="8.3" font-style="italic" textLength="15.57" lengthAdjust="spacingAndGlyphs">Moz</text>
<text x="485.29" y="715.30" font-size="7.2" textLength="9.98" lengthAdjust="spacingAndGlyphs">+/-</text>
<text x="499.41" y="718.00" font-size="7.7" textLength="18.68" lengthAdjust="spacingAndGlyphs">(n=8)</text>
</svg>
</body></html>
